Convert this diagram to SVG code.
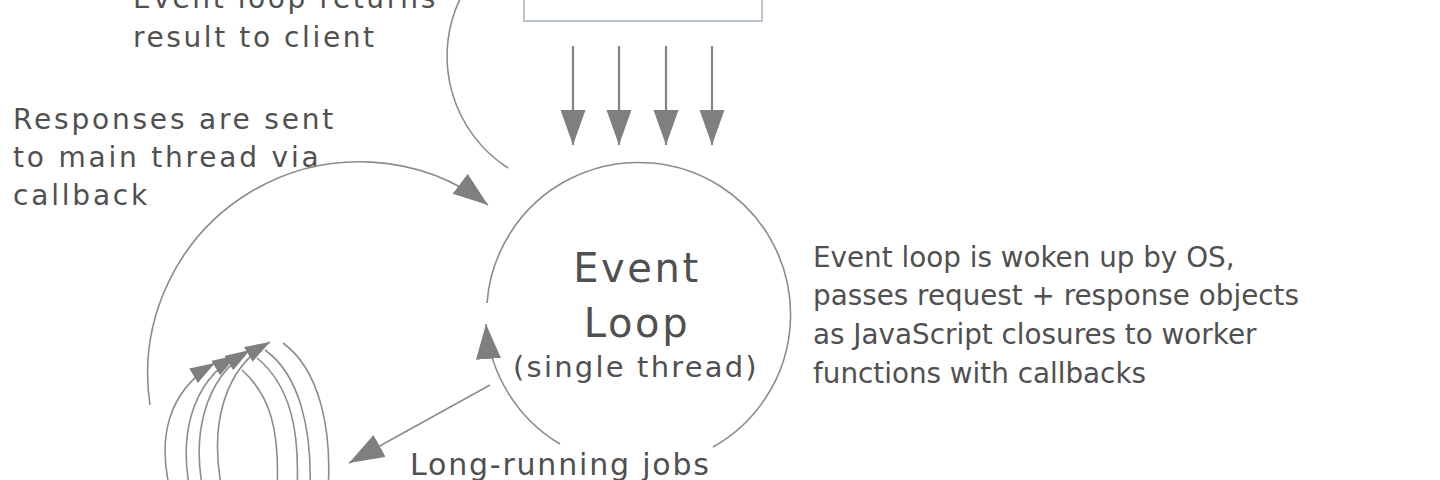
<svg xmlns="http://www.w3.org/2000/svg" width="1440" height="480" viewBox="0 0 1440 480">
<style>
  .txt { font-family: "DejaVu Sans", Verdana, sans-serif; fill: #505050; font-size: 28px; }
  .wide { letter-spacing: 2.8px; }
  .ret { letter-spacing: 2.6px; }
  .big { font-size: 40px; letter-spacing: 2.6px; }
  .sub { font-size: 29px; letter-spacing: 2.2px; }
  .right { font-size: 27.8px; }
  .jobs { font-size: 30px; letter-spacing: 1.8px; }
  .line { fill: none; stroke: #8c8c8c; stroke-width: 1.6; }
  .thick { fill: none; stroke: #858585; stroke-width: 2.2; }
</style>
<defs>
  <marker id="ah" markerUnits="userSpaceOnUse" markerWidth="36" markerHeight="26" refX="35" refY="12.5" orient="auto">
    <path d="M0,0 L35,12.5 L0,25 z" fill="#7f7f7f"/>
  </marker>
  <marker id="ahs" markerUnits="userSpaceOnUse" markerWidth="26" markerHeight="18" refX="25" refY="8.5" orient="auto">
    <path d="M0,0 L25,8.5 L0,17 z" fill="#7f7f7f"/>
  </marker>
</defs>

<g id="client-box">
  <rect x="524" y="-20" width="238" height="41" fill="#ffffff" stroke="#bcc4cf" stroke-width="2"/>
</g>

<g id="event-loop">
  <text class="txt big" x="637" y="282" text-anchor="middle">Event</text>
  <text class="txt big" x="637" y="337" text-anchor="middle">Loop</text>
  <text class="txt sub" x="636" y="377" text-anchor="middle">(single thread)</text>
</g>

<g id="label-returns">
  <text class="txt ret" x="133" y="8">Event loop returns</text>
  <text class="txt ret" x="133" y="47">result to client</text>
</g>

<g id="label-responses">
  <text class="txt wide" x="13" y="129">Responses are sent</text>
  <text class="txt wide" x="13" y="167">to main thread via</text>
  <text class="txt wide" x="13" y="205">callback</text>
</g>

<g id="label-woken">
  <text class="txt right" x="813" y="267">Event loop is woken up by OS,</text>
  <text class="txt right" x="813" y="305">passes request + response objects</text>
  <text class="txt right" x="813" y="344">as JavaScript closures to worker</text>
  <text class="txt right" x="813" y="383">functions with callbacks</text>
</g>

<g id="label-longrunning">
  <text class="txt jobs" x="410" y="475">Long-running jobs</text>
</g>

<g id="connectors">
  <!-- incoming requests -->
  <line class="thick" x1="573" y1="46" x2="573" y2="145" marker-end="url(#ah)"/>
  <line class="thick" x1="619" y1="46" x2="619" y2="145" marker-end="url(#ah)"/>
  <line class="thick" x1="666" y1="46" x2="666" y2="145" marker-end="url(#ah)"/>
  <line class="thick" x1="712" y1="46" x2="712" y2="145" marker-end="url(#ah)"/>

  <!-- event loop circle -->
  <path class="line" d="M 487 303 A 152 152 0 1 1 713 447"/>
  <path class="line" d="M 560 444 A 152 152 0 0 1 486 324" marker-end="url(#ah)"/>

  <!-- returns result to client -->
  <path class="line" d="M 508 168 A 133 133 0 0 1 462 -5"/>

  <!-- responses sent via callback -->
  <path class="line" d="M 150 405 A 212 212 0 0 1 488 205" marker-end="url(#ah)"/>

  <!-- long-running jobs -->
  <line class="line" x1="490" y1="385" x2="349" y2="463" marker-end="url(#ah)"/>

  <!-- worker loops -->
  <path class="line" d="M 170 490 C 158 440, 166 392, 215 363" marker-end="url(#ahs)"/>
  <path class="line" d="M 190 490 C 180 440, 188 385, 237 355" marker-end="url(#ahs)"/>
  <path class="line" d="M 203 490 C 193 440, 201 380, 250 350" marker-end="url(#ahs)"/>
  <path class="line" d="M 222 490 C 210 430, 221 370, 270 342" marker-end="url(#ahs)"/>
  <path class="line" d="M 242 370 C 270 395, 280 430, 277 490"/>
  <path class="line" d="M 257 358 C 290 385, 300 430, 297 490"/>
  <path class="line" d="M 265 350 C 300 375, 312 430, 310 490"/>
  <path class="line" d="M 283 343 C 320 370, 332 430, 328 490"/>
</g>
</svg>
